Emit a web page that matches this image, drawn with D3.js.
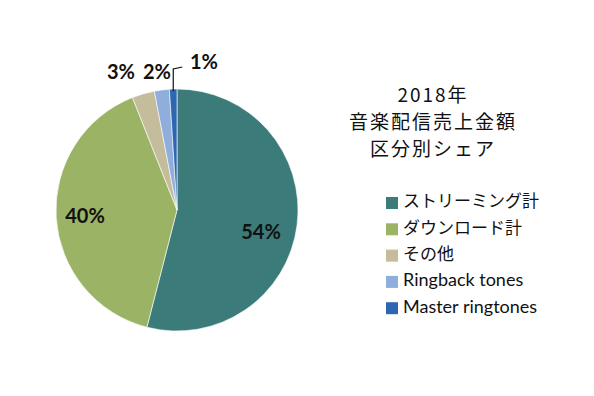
<!DOCTYPE html>
<meta charset="utf-8">
<style>
body { margin: 0; background: #fff; }
.lbl { font-family: Lato, "Open Sans", sans-serif; font-weight: bold; font-size: 20px; fill: #111; }
.title { font-family: "Noto Sans CJK JP", sans-serif; font-size: 19px; fill: #111; letter-spacing: 2px; }
.legend text { font-family: Lato, "Noto Sans CJK JP", sans-serif; font-size: 18px; fill: #111; }
.legend text.jp { font-size: 17px; }
</style>
<svg width="594" height="396"></svg>
<script src="https://cdn.jsdelivr.net/npm/d3@7/dist/d3.min.js"></script>
<script>

var categories = ["ストリーミング計", "ダウンロード計", "その他", "Ringback tones", "Master ringtones"];
var shares = [54, 40, 3, 2, 1];
var colors = ["#3b7b79", "#9bb365", "#c4bc9b", "#8faedc", "#2f66b1"];
var titleLines = ["2018年", "音楽配信売上金額", "区分別シェア"];

var svg = d3.select("svg");

var cx = 177, cy = 210, r = 121;

var data = categories.map(function(c, i) { return {name: c, value: shares[i], color: colors[i]}; });

var pie = d3.pie().sort(null).value(function(d) { return d.value; });
var arc = d3.arc().innerRadius(0).outerRadius(r);
var arcs = pie(data);

var g = svg.append("g").attr("transform", "translate(" + cx + "," + cy + ")");

g.selectAll("path")
  .data(arcs)
  .enter().append("path")
    .attr("d", arc)
    .attr("fill", function(d) { return d.data.color; })
    .attr("stroke", "#fff")
    .attr("stroke-width", 0.6);

// label positions (offset from centre), picked by eye
var labelPos = [[84, 24], [-92, 8], [-56, -136], [-20, -136], [27, -146]];

g.selectAll("text.lbl")
  .data(arcs)
  .enter().append("text")
    .attr("class", "lbl")
    .attr("x", function(d, i) { return labelPos[i][0]; })
    .attr("y", function(d, i) { return labelPos[i][1]; })
    .attr("text-anchor", "middle")
    .attr("dominant-baseline", "middle")
    .text(function(d) { return d.data.value + "%"; });

// leader line for the 1% slice
var mid = (arcs[4].startAngle + arcs[4].endAngle) / 2;
var p0 = [Math.sin(mid) * (r - 2), -Math.cos(mid) * (r - 2)];
g.append("path")
  .attr("d", "M" + p0[0] + "," + p0[1] + "L" + p0[0] + "," + (-141) + "L" + (p0[0] + 9) + "," + (-143))
  .attr("fill", "none")
  .attr("stroke", "#111")
  .attr("stroke-width", 1.2);

// title
svg.append("g").selectAll("text")
  .data(titleLines)
  .enter().append("text")
    .attr("class", "title")
    .attr("x", 433)
    .attr("y", function(d, i) { return 97 + i * 27; })
    .attr("text-anchor", "middle")
    .attr("dominant-baseline", "middle")
    .text(function(d) { return d; });

// legend
var leg = svg.append("g").attr("class", "legend").attr("transform", "translate(386,203)");
var row = leg.selectAll("g")
  .data(data)
  .enter().append("g")
    .attr("transform", function(d, i) { return "translate(0," + i * 26.3 + ")"; });

row.append("rect")
  .attr("x", 0).attr("y", -6)
  .attr("width", 12).attr("height", 12)
  .attr("fill", function(d) { return d.color; });

row.append("text")
  .attr("x", 17)
  .attr("class", function(d, i) { return i < 3 ? "jp" : null; })
  .attr("dominant-baseline", "middle")
  .text(function(d) { return d.name; });

</script>
